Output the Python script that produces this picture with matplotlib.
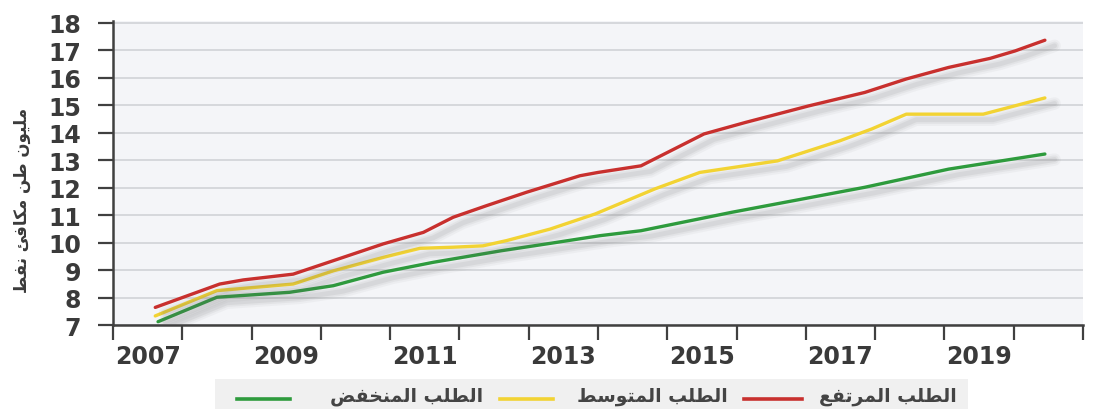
import matplotlib
matplotlib.use("Agg")
import matplotlib.pyplot as plt
import matplotlib.patheffects as pe
from matplotlib.lines import Line2D
from matplotlib.patches import Rectangle

# data (x = fractional year, label of year Y sits at Y+0.5)
high_x = [2007.61, 2008.54, 2008.88, 2009.60, 2010.18, 2010.90, 2011.48, 2011.91,
          2012.39, 2012.97, 2013.74, 2014.00, 2014.62, 2015.53, 2016.13, 2017.04,
          2017.85, 2018.45, 2019.06, 2019.66, 2020.02, 2020.45]
high_y = [7.64, 8.49, 8.64, 8.85, 9.34, 9.95, 10.37, 10.92,
          11.34, 11.83, 12.43, 12.55, 12.79, 13.95, 14.37, 14.97,
          15.46, 15.95, 16.37, 16.70, 16.97, 17.36]

mid_x = [2007.61, 2008.50, 2009.60, 2010.18, 2010.90, 2011.43, 2011.91, 2012.34,
         2012.68, 2013.31, 2013.96, 2014.82, 2015.47, 2016.59, 2017.49, 2017.95,
         2018.45, 2019.56, 2020.45]
mid_y = [7.33, 8.25, 8.49, 8.97, 9.46, 9.79, 9.83, 9.88,
         10.07, 10.49, 11.04, 11.95, 12.55, 12.97, 13.70, 14.13,
         14.67, 14.67, 15.26]

low_x = [2007.65, 2008.50, 2009.55, 2010.18, 2010.90, 2011.62, 2012.60, 2013.31,
         2014.03, 2014.62, 2015.93, 2017.85, 2019.06, 2020.45]
low_y = [7.12, 8.01, 8.19, 8.43, 8.92, 9.28, 9.70, 9.97,
         10.25, 10.43, 11.10, 12.01, 12.67, 13.22]

year_labels = [2007, 2009, 2011, 2013, 2015, 2017, 2019]
y_ticks = list(range(7, 19))

label_high = "الطلب المرتفع"
label_mid = "الطلب المتوسط"
label_low = "الطلب المنخفض"
y_title = "مليون طن مكافئ نفط"

RED, YELLOW, GREEN = "#c8302e", "#f2d333", "#2e9b3d"
TXT = "#3a3a3a"

# matplotlib does no arabic shaping -> pick presentation forms by hand
FORMS = {  # isolated, final, initial, medial
    "ا": ("\uFE8D", "\uFE8E", None, None),
    "ر": ("\uFEAD", "\uFEAE", None, None),
    "و": ("\uFEED", "\uFEEE", None, None),
    "ل": ("\uFEDD", "\uFEDE", "\uFEDF", "\uFEE0"),
    "ط": ("\uFEC1", "\uFEC2", "\uFEC3", "\uFEC4"),
    "ب": ("\uFE8F", "\uFE90", "\uFE91", "\uFE92"),
    "م": ("\uFEE1", "\uFEE2", "\uFEE3", "\uFEE4"),
    "ت": ("\uFE95", "\uFE96", "\uFE97", "\uFE98"),
    "ف": ("\uFED1", "\uFED2", "\uFED3", "\uFED4"),
    "ع": ("\uFEC9", "\uFECA", "\uFECB", "\uFECC"),
    "س": ("\uFEB1", "\uFEB2", "\uFEB3", "\uFEB4"),
    "ن": ("\uFEE5", "\uFEE6", "\uFEE7", "\uFEE8"),
    "خ": ("\uFEA5", "\uFEA6", "\uFEA7", "\uFEA8"),
    "ض": ("\uFEBD", "\uFEBE", "\uFEBF", "\uFEC0"),
    "ي": ("\uFEF1", "\uFEF2", "\uFEF3", "\uFEF4"),
    "ك": ("\uFED9", "\uFEDA", "\uFEDB", "\uFEDC"),
    "ئ": ("\uFE89", "\uFE8A", "\uFE8B", "\uFE8C"),
}


def shape(s):
    out = []
    for i, c in enumerate(s):
        if c not in FORMS:
            out.append(c)
            continue
        prev = s[i - 1] if i > 0 else ""
        nxt = s[i + 1] if i + 1 < len(s) else ""
        jp = prev in FORMS and FORMS[prev][2] is not None
        jn = FORMS[c][2] is not None and nxt in FORMS
        iso, fin, ini, med = FORMS[c]
        out.append(med if jp and jn else fin if jp else ini if jn else iso)
    return "".join(reversed(out))


W, H = 1098, 410
fig = plt.figure(figsize=(W / 100, H / 100), dpi=100)
ax = fig.add_axes([113 / W, 1 - 326 / H, (1083 - 113) / W, (326 - 21.7) / H])
ax.set_facecolor("#f4f5f8")

# soft drop shadow: a few wide, faint offset strokes
shadow = [pe.SimpleLineShadow(offset=(7, -4), shadow_color="#666666", alpha=0.05, linewidth=9),
          pe.SimpleLineShadow(offset=(7, -4), shadow_color="#666666", alpha=0.07, linewidth=6),
          pe.SimpleLineShadow(offset=(7, -4), shadow_color="#666666", alpha=0.09, linewidth=3.5),
          pe.Normal()]
for xs, ys, col in [(low_x, low_y, GREEN), (mid_x, mid_y, YELLOW), (high_x, high_y, RED)]:
    ax.plot(xs, ys, color=col, lw=2.4, solid_joinstyle="round", solid_capstyle="round",
            zorder=3, path_effects=shadow)

ax.set_xlim(2007, 2021)
ax.set_ylim(7, 18.07)
ax.set_yticks(y_ticks)
ax.set_yticklabels([str(v) for v in y_ticks])
ax.set_xticks(range(2007, 2022))
ax.set_xticklabels([])
ax.set_xticks([y + 0.5 for y in year_labels], minor=True)
ax.set_xticklabels([str(y) for y in year_labels], minor=True)
ax.grid(axis="y", color="#d3d5d9", lw=1.3, zorder=1)
ax.set_axisbelow(True)

for s in ["top", "right"]:
    ax.spines[s].set_visible(False)
for s in ["left", "bottom"]:
    ax.spines[s].set_color("#404040")
    ax.spines[s].set_linewidth(1.8)

ax.tick_params(axis="y", which="major", length=11, width=1.6, color="#404040",
               pad=12, labelsize=17, labelcolor=TXT)
ax.tick_params(axis="x", which="major", length=11, width=1.6, color="#404040")
ax.tick_params(axis="x", which="minor", length=0, pad=14, labelsize=17, labelcolor=TXT)
for t in ax.get_yticklabels() + ax.get_xticklabels(minor=True):
    t.set_fontweight("bold")

fig.text(22 / W, 1 - 200 / H, shape(y_title), rotation=90, ha="center", va="center",
         fontsize=12, fontweight="bold", color=TXT, family="DejaVu Sans")

# legend strip at the bottom
fig.add_artist(Rectangle((215 / W, 0), (968 - 215) / W, 30 / H, transform=fig.transFigure,
                         facecolor="#f0f0f0", edgecolor="none"))
legend_items = [(GREEN, label_low, 237, 290, 483),
                (YELLOW, label_mid, 500, 553, 728),
                (RED, label_high, 744, 802, 957)]
for col, lab, x0, x1, tx in legend_items:
    fig.add_artist(Line2D([x0 / W, x1 / W], [1 - 400 / H] * 2, transform=fig.transFigure,
                          color=col, lw=2.6))
    fig.text(tx / W, 1 - 397 / H, shape(lab), ha="right", va="center", fontsize=13.5,
             fontweight="bold", color="#444444", family="DejaVu Sans")

fig.savefig("out.png", dpi=100)
